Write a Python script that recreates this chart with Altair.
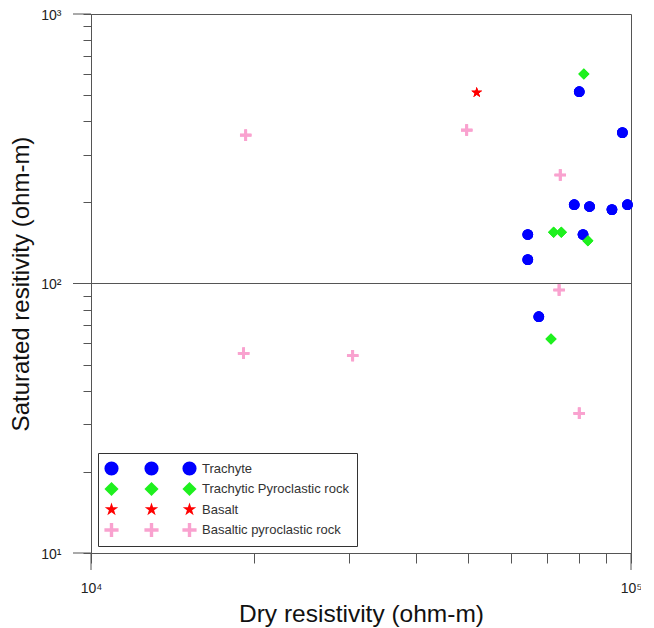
import altair as alt
import pandas as pd

# ---- data ----
categories = ["Trachyte", "Trachytic Pyroclastic rock", "Basalt", "Basaltic pyroclastic rock"]

trachyte_dry = [80200, 96400, 78500, 83800, 92200, 98500, 64400, 81500, 64400, 67500]
trachyte_sat = [515, 363, 196, 193, 188, 196, 152, 152, 122.6, 75.3]

tpr_dry = [81800, 71900, 74300, 83200, 71100]
tpr_sat = [599, 155, 155, 144, 62.2]

basalt_dry = [51800]
basalt_sat = [511]

bpr_dry = [19340, 49630, 19170, 30520, 73960, 73600, 80200]
bpr_sat = [355, 371, 55.1, 54.0, 252.7, 94.6, 33.0]

x_ticks = [10000, 20000, 30000, 40000, 50000, 60000, 70000, 80000, 90000, 100000]
y_ticks = [10, 20, 30, 40, 50, 60, 70, 80, 90, 100, 200, 300, 400, 500, 600, 700, 800, 900, 1000]
x_major = [10000, 100000]
y_major = [10, 100, 1000]
y_grid = [100]

# ---- styles ----
colors = ["#0000FF", "#1EF01E", "#FF0000", "#F9A2CF"]
PLUS = "M-1,-0.24H1V0.24H-1Z M-0.24,-1H0.24V1H-0.24Z"
STAR = ("M0,-1L0.225,-0.309L0.951,-0.309L0.363,0.118L0.588,0.809L0,0.382"
        "L-0.588,0.809L-0.363,0.118L-0.951,-0.309L-0.225,-0.309Z")
shapes = ["circle", "diamond", STAR, PLUS]
sizes = [115, 130, 140, 165]
FONT = "Liberation Sans"
AX = "#555"

rows = []
for cat, xs, ys in zip(categories,
                       [trachyte_dry, tpr_dry, basalt_dry, bpr_dry],
                       [trachyte_sat, tpr_sat, basalt_sat, bpr_sat]):
    for xv, yv in zip(xs, ys):
        rows.append({"rock": cat, "dry": xv, "sat": yv})
df = pd.DataFrame(rows)

x_scale = alt.Scale(type="log", domain=[10000, 100000], nice=False)
y_scale = alt.Scale(type="log", domain=[10, 1000], nice=False)

x_axis = alt.Axis(values=x_ticks,
                  labelExpr="datum.value == 10000 ? '10\u2074' : datum.value == 100000 ? '10\u2075' : ''",
                  tickSize=10, labelPadding=18, labelFontSize=14, labelFont=FONT, labelColor="#222",
                  labelFlush=False, labelOverlap=False, labelBaseline="top",
                  grid=False, domainColor=AX, tickColor=AX,
                  title="Dry resistivity (ohm-m)", titleFont=FONT, titleFontSize=24.5,
                  titleFontWeight="normal", titleColor="#111",
                  titleX=270, titleY=68, titleAlign="center", titleBaseline="alphabetic")
y_axis = alt.Axis(values=y_ticks,
                  labelExpr="datum.value == 10 ? '10\u00b9' : datum.value == 100 ? '10\u00b2' : datum.value == 1000 ? '10\u00b3' : ''",
                  tickSize=8, labelPadding=22, labelFontSize=14, labelFont=FONT, labelColor="#222",
                  labelFlush=False, labelOverlap=False, labelAlign="right", labelBaseline="middle",
                  labelOffset=1,
                  grid=False, domainColor=AX, tickColor=AX,
                  title="Saturated resitivity (ohm-m)", titleFont=FONT, titleFontSize=24,
                  titleFontWeight="normal", titleColor="#111",
                  titleX=-70, titleY=269.5, titleAngle=-90, titleAlign="center", titleBaseline="middle")

size_enc = alt.Size("rock:N", scale=alt.Scale(domain=categories, range=sizes), legend=None)


def layer(field, legend):
    return alt.Chart(df).transform_calculate(**{field: "datum.rock"}).mark_point(
        filled=True, opacity=1, strokeWidth=0
    ).encode(
        x=alt.X("dry:Q", scale=x_scale, axis=x_axis),
        y=alt.Y("sat:Q", scale=y_scale, axis=y_axis),
        size=size_enc,
        color=alt.Color(f"{field}:N", scale=alt.Scale(domain=categories, range=colors), legend=legend),
        shape=alt.Shape(f"{field}:N", scale=alt.Scale(domain=categories, range=shapes), legend=legend),
    )


# gridline at 10^2 and the longer major ticks
grid = alt.Chart(pd.DataFrame({"sat": y_grid})).mark_rule(color=AX, strokeWidth=1).encode(
    y=alt.Y("sat:Q", scale=y_scale, axis=y_axis)
)
xmaj = alt.Chart(pd.DataFrame({"dry": x_major})).mark_rule(color=AX, strokeWidth=1).encode(
    x=alt.X("dry:Q", scale=x_scale, axis=x_axis), y=alt.value(539), y2=alt.value(556)
)
ymaj = alt.Chart(pd.DataFrame({"sat": y_major})).mark_rule(color=AX, strokeWidth=1).encode(
    y=alt.Y("sat:Q", scale=y_scale, axis=y_axis), x=alt.value(-18), x2=alt.value(0)
)

common = dict(title=None, orient="none", legendY=439, padding=8, symbolSize=200,
              symbolStrokeWidth=0, rowPadding=5.5, labelFont=FONT, labelFontSize=13,
              labelColor="#333", symbolOffset=-2)
legA = alt.Legend(legendX=7, strokeColor="#333", labelOffset=83, **common)
legB = alt.Legend(legendX=47, labelExpr="''", **common)
legC = alt.Legend(legendX=85, labelExpr="''", **common)

chart = alt.layer(grid, xmaj, ymaj,
                  layer("r1", legA), layer("r2", legB), layer("r3", legC)).resolve_scale(
    color="independent", shape="independent"
).properties(
    width=540, height=539,
    autosize=alt.AutoSizeParams(type="none"),
    padding={"left": 83, "top": 6, "right": 10, "bottom": 75},
).configure_view(stroke=AX, strokeWidth=1)

chart.save("out.html", embed_options={"renderer": "svg", "actions": False})
